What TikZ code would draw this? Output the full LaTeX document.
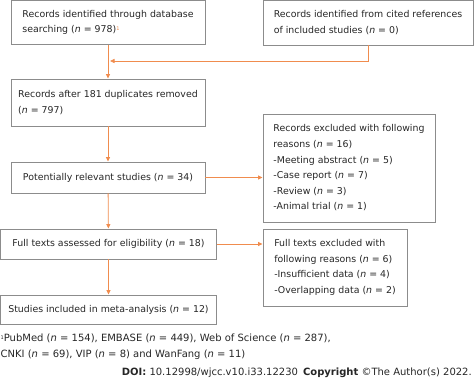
\documentclass[tikz,border=0pt]{standalone}
\usepackage{fontspec}
\setmainfont{DejaVu Sans}
\usepackage{xcolor}
\usetikzlibrary{arrows.meta}
\definecolor{boxgray}{HTML}{8C8C8C}
\definecolor{flow}{HTML}{F08C4E}
\definecolor{ink}{HTML}{262626}

\begin{document}
\begin{tikzpicture}[x=1pt, y=-1pt,
    box/.style={draw=boxgray, line width=0.9pt, text=ink, align=left, inner sep=0pt,
        font=\fontsize{9.4}{15.6}\selectfont},
    link/.style={draw=flow, line width=0.8pt, -{Triangle[length=4.5pt,width=4pt]}},
    plain/.style={text=ink, align=left, inner sep=0pt, font=\fontsize{10}{15.4}\selectfont}]

    \useasboundingbox (0,0) rectangle (474,382);

    \node[box, minimum width=194pt, minimum height=44pt] (search) at (108, 22.5) {Records identified through database\\searching (\textit{n} = 978)\raisebox{0.5ex}{\fontsize{5}{5}\selectfont\color{flow}1}};
    \node[box, minimum width=210pt, minimum height=45pt] (cited) at (368, 22.5) {Records identified from cited references\\of included studies (\textit{n} = 0)};
    \node[box, minimum width=194pt, minimum height=47pt] (dedup) at (108, 102.5) {Records after 181 duplicates removed\\(\textit{n} = 797)};
    \node[box, minimum width=194pt, minimum height=31pt] (relevant) at (108, 177.5) {Potentially relevant studies (\textit{n} = 34)};
    \node[box, minimum width=172pt, minimum height=108pt] (excluded) at (349, 168) {Records excluded with following\\reasons (\textit{n} = 16)\\-Meeting abstract (\textit{n} = 5)\\-Case report (\textit{n} = 7)\\-Review (\textit{n} = 3)\\-Animal trial (\textit{n} = 1)};
    \node[box, minimum width=216pt, minimum height=30pt] (fulltext) at (108.5, 244) {Full texts assessed for eligibility (\textit{n} = 18)};
    \node[box, minimum width=144pt, minimum height=77pt] (ftexcl) at (335, 267.5) {Full texts excluded with\\following reasons (\textit{n} = 6)\\-Insufficient data (\textit{n} = 4)\\-Overlapping data (\textit{n} = 2)};
    \node[box, minimum width=216pt, minimum height=29pt] (included) at (108.5, 309.5) {Studies included in meta-analysis (\textit{n} = 12)};

    \node[plain, anchor=north west] (note) at (0.5, 334) {\raisebox{0.5ex}{\fontsize{5}{5}\selectfont 1}PubMed (\textit{n} = 154), EMBASE (\textit{n} = 449), Web of Science (\textit{n} = 287),\\CNKI (\textit{n} = 69), VIP (\textit{n} = 8) and WanFang (\textit{n} = 11)};
    \node[plain, anchor=east] (doi) at (472, 373) {\textbf{DOI:} 10.12998/wjcc.v10.i33.12230\enspace\textbf{Copyright} \textcopyright The Author(s) 2022.};

    \coordinate (join) at (110, 61);

    \draw[link] (search) -- (dedup);
    \draw[link] (cited) |- (join);
    \draw[link] (dedup) -- (relevant);
    \draw[link] (relevant.east) -- (relevant.east -| excluded.west);
    \draw[link] (relevant) -- (fulltext);
    \draw[link] (fulltext.east) -- (fulltext.east -| ftexcl.west);
    \draw[link] (fulltext) -- (included);

\end{tikzpicture}
\end{document}
